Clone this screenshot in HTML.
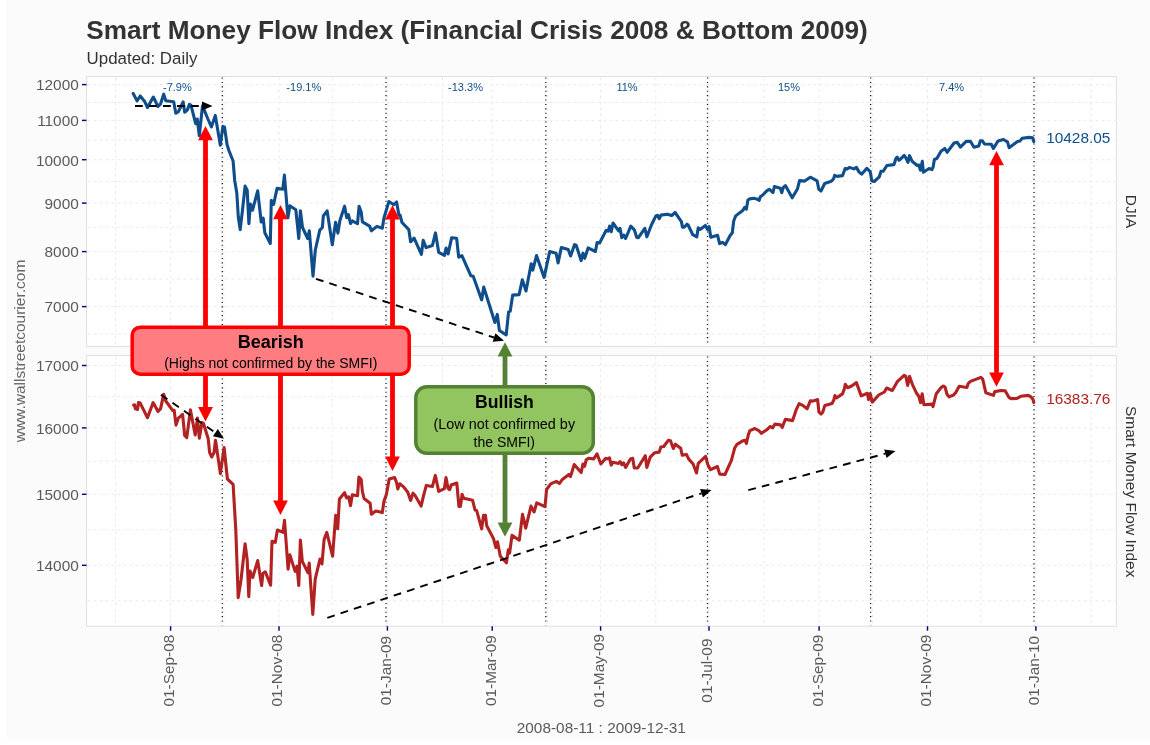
<!DOCTYPE html>
<html><head><meta charset="utf-8"><title>Smart Money Flow Index</title>
<style>
html,body{margin:0;padding:0;background:#ffffff;}
body{width:1150px;height:745px;overflow:hidden;position:relative;font-family:"Liberation Sans",sans-serif;}
#bg{position:absolute;left:6px;top:0;width:1144px;height:739px;background:#fbfbfb;}
svg{position:absolute;left:0;top:0;font-family:"Liberation Sans",sans-serif;will-change:transform;}
</style></head><body>
<div id="bg"></div>
<svg width="1150" height="745" viewBox="0 0 1150 745">
<rect x="86.5" y="76.5" width="1029.9" height="270.0" fill="#ffffff" stroke="#e0e0e0" stroke-width="1"/>
<rect x="86.5" y="355.5" width="1029.9" height="270.70000000000005" fill="#ffffff" stroke="#e0e0e0" stroke-width="1"/>
<g stroke="#eaeaea" stroke-width="1" stroke-dasharray="3 3" fill="none">
<path d="M87.5 306.6H1115.4"/>
<path d="M87.5 334.1H1115.4"/>
<path d="M87.5 251.6H1115.4"/>
<path d="M87.5 279.1H1115.4"/>
<path d="M87.5 203.1H1115.4"/>
<path d="M87.5 227.3H1115.4"/>
<path d="M87.5 159.7H1115.4"/>
<path d="M87.5 181.4H1115.4"/>
<path d="M87.5 120.4H1115.4"/>
<path d="M87.5 140.1H1115.4"/>
<path d="M87.5 84.6H1115.4"/>
<path d="M87.5 102.5H1115.4"/>
<path d="M87.5 565.3H1115.4"/>
<path d="M87.5 600.8H1115.4"/>
<path d="M87.5 494.3H1115.4"/>
<path d="M87.5 529.8H1115.4"/>
<path d="M87.5 427.9H1115.4"/>
<path d="M87.5 461.1H1115.4"/>
<path d="M87.5 365.5H1115.4"/>
<path d="M87.5 396.7H1115.4"/>
<path d="M115.5 77.5V345.5M115.5 356.5V625.2"/>
<path d="M170.6 77.5V345.5M170.6 356.5V625.2"/>
<path d="M223.9 77.5V345.5M223.9 356.5V625.2"/>
<path d="M279.0 77.5V345.5M279.0 356.5V625.2"/>
<path d="M332.3 77.5V345.5M332.3 356.5V625.2"/>
<path d="M387.4 77.5V345.5M387.4 356.5V625.2"/>
<path d="M442.5 77.5V345.5M442.5 356.5V625.2"/>
<path d="M492.2 77.5V345.5M492.2 356.5V625.2"/>
<path d="M547.3 77.5V345.5M547.3 356.5V625.2"/>
<path d="M600.6 77.5V345.5M600.6 356.5V625.2"/>
<path d="M655.7 77.5V345.5M655.7 356.5V625.2"/>
<path d="M709.0 77.5V345.5M709.0 356.5V625.2"/>
<path d="M764.1 77.5V345.5M764.1 356.5V625.2"/>
<path d="M819.1 77.5V345.5M819.1 356.5V625.2"/>
<path d="M872.4 77.5V345.5M872.4 356.5V625.2"/>
<path d="M927.5 77.5V345.5M927.5 356.5V625.2"/>
<path d="M980.8 77.5V345.5M980.8 356.5V625.2"/>
<path d="M1035.9 77.5V345.5M1035.9 356.5V625.2"/>
<path d="M1091.0 77.5V345.5M1091.0 356.5V625.2"/>
</g>
<g stroke="#111" stroke-width="1.3" stroke-dasharray="1.1 3.3" fill="none">
<path d="M222.3 77.5V345.5M222.3 356.5V625.2"/>
<path d="M386.0 77.5V345.5M386.0 356.5V625.2"/>
<path d="M545.8 77.5V345.5M545.8 356.5V625.2"/>
<path d="M707.5 77.5V345.5M707.5 356.5V625.2"/>
<path d="M870.6 77.5V345.5M870.6 356.5V625.2"/>
<path d="M1034.0 77.5V345.5M1034.0 356.5V625.2"/>
</g>
<g stroke="#00008b" stroke-width="1.45" fill="none">
<path d="M82 84.6H86.5"/>
<path d="M82 120.4H86.5"/>
<path d="M82 159.7H86.5"/>
<path d="M82 203.1H86.5"/>
<path d="M82 251.6H86.5"/>
<path d="M82 306.6H86.5"/>
<path d="M82 365.5H86.5"/>
<path d="M82 427.9H86.5"/>
<path d="M82 494.3H86.5"/>
<path d="M82 565.3H86.5"/>
<path d="M170.6 626.2V630.7"/>
<path d="M279.0 626.2V630.7"/>
<path d="M387.4 626.2V630.7"/>
<path d="M492.2 626.2V630.7"/>
<path d="M600.6 626.2V630.7"/>
<path d="M709.0 626.2V630.7"/>
<path d="M819.1 626.2V630.7"/>
<path d="M927.5 626.2V630.7"/>
<path d="M1035.9 626.2V630.7"/>
</g>
<g font-size="15.4" fill="#5a5a5a" text-anchor="end">
<text x="78.8" y="90.4">12000</text>
<text x="78.8" y="126.2">11000</text>
<text x="78.8" y="165.5">10000</text>
<text x="78.8" y="208.9">9000</text>
<text x="78.8" y="257.4">8000</text>
<text x="78.8" y="312.4">7000</text>
<text x="78.8" y="371.3">17000</text>
<text x="78.8" y="433.7">16000</text>
<text x="78.8" y="500.1">15000</text>
<text x="78.8" y="571.1">14000</text>
</g>
<g font-size="15.4" fill="#5a5a5a" text-anchor="middle">
<text transform="translate(174.0 670.6) rotate(-90)">01-Sep-08</text>
<text transform="translate(282.4 670.6) rotate(-90)">01-Nov-08</text>
<text transform="translate(390.8 670.6) rotate(-90)">01-Jan-09</text>
<text transform="translate(495.6 670.6) rotate(-90)">01-Mar-09</text>
<text transform="translate(604.0 670.6) rotate(-90)">01-May-09</text>
<text transform="translate(712.4 670.6) rotate(-90)">01-Jul-09</text>
<text transform="translate(822.5 670.6) rotate(-90)">01-Sep-09</text>
<text transform="translate(930.9 670.6) rotate(-90)">01-Nov-09</text>
<text transform="translate(1039.3 670.6) rotate(-90)">01-Jan-10</text>
</g>
<g font-size="11" fill="#104e8b" text-anchor="middle">
<text x="177.4" y="90.8">-7.9%</text>
<text x="303.8" y="90.8">-19.1%</text>
<text x="465.5" y="90.8">-13.3%</text>
<text x="627" y="90.8">11%</text>
<text x="789" y="90.8">15%</text>
<text x="951.5" y="90.8">7.4%</text>
</g>
<polyline points="133.2,93.5 137.0,100.9 140.2,96.0 144.9,101.8 147.5,107.5 153.3,97.0 158.0,106.5 160.6,103.8 163.7,94.2 165.8,100.7 173.7,101.8 175.8,113.3 178.4,111.7 183.1,101.8 184.7,112.2 187.3,110.1 189.4,104.4 191.0,105.4 195.7,123.7 197.3,119.0 199.3,135.8 202.5,105.9 207.7,118.5 211.4,126.9 215.3,115.4 220.3,145.2 222.9,126.4 224.5,126.9 227.1,144.7 228.9,150.5 233.1,161.0 234.7,180.4 236.8,193.0 238.3,217.0 240.2,229.6 242.5,210.0 245.1,186.1 247.2,190.3 248.9,223.6 250.4,204.0 252.5,210.2 257.7,190.8 261.2,222.0 263.2,218.1 264.8,232.7 270.3,243.5 271.3,200.3 273.6,204.5 277.1,188.2 282.8,189.3 284.4,175.1 287.9,217.8 289.9,205.8 295.8,209.7 298.8,238.5 300.4,210.7 302.5,227.5 307.7,238.5 309.3,230.7 313.0,276.2 315.3,250.0 319.8,230.1 322.4,227.5 323.3,216.0 327.1,210.8 332.3,244.8 335.6,222.3 337.9,233.1 339.9,220.5 344.6,206.2 346.7,217.7 348.4,214.6 350.5,223.5 352.3,220.9 357.5,223.7 359.1,206.2 361.2,212.0 362.4,221.9 369.6,226.1 371.4,230.8 376.9,226.4 382.3,228.2 384.0,217.7 388.9,201.5 393.8,204.7 396.6,202.0 398.9,215.1 400.1,215.1 402.0,222.5 408.8,229.6 410.6,241.8 414.1,238.2 421.4,254.4 423.2,240.3 426.1,247.6 432.4,245.5 435.5,232.9 438.7,252.3 444.4,255.4 446.1,248.0 448.1,254.0 451.6,237.8 456.6,238.2 458.7,257.2 461.9,255.6 470.8,275.7 473.2,276.2 481.7,299.9 483.7,287.0 494.9,322.5 497.3,314.4 499.4,330.5 506.2,334.9 508.6,312.0 510.2,311.2 512.7,295.1 519.1,294.6 522.3,279.8 526.0,291.0 531.2,263.7 532.8,270.1 536.5,255.6 544.1,277.4 549.7,251.6 556.1,253.2 558.1,262.9 561.3,247.6 568.2,249.5 570.6,256.0 574.5,244.7 576.2,245.3 581.1,260.6 583.0,253.2 584.7,258.3 588.1,247.9 595.4,251.5 597.1,242.5 599.6,243.0 606.2,230.3 608.2,231.2 609.6,226.1 611.3,231.7 613.0,223.0 618.6,230.9 620.0,228.3 621.8,237.7 623.7,235.1 625.6,238.5 630.8,226.1 634.4,230.0 636.7,237.4 638.4,237.7 644.8,228.3 646.9,236.8 651.4,225.0 655.9,215.9 657.6,215.3 659.3,218.7 661.0,215.1 667.2,214.2 671.7,215.6 675.1,212.5 681.4,221.6 682.5,227.2 684.2,227.2 687.0,224.2 688.1,225.0 692.7,234.6 696.8,236.8 698.2,227.9 700.1,229.5 705.4,225.5 707.4,229.4 709.1,226.6 710.8,237.3 717.6,235.3 719.6,243.6 722.7,242.4 725.3,244.7 730.0,235.7 732.3,232.8 733.7,221.0 735.7,215.9 743.0,210.2 744.7,207.4 746.4,209.1 747.9,200.0 749.8,198.9 753.8,198.3 756.6,198.9 759.2,200.3 760.3,196.7 762.8,195.0 767.3,190.4 769.4,189.3 773.0,192.5 774.4,186.5 780.3,188.2 781.8,192.7 783.2,187.6 785.4,185.6 792.2,197.8 797.3,189.3 799.6,180.6 804.7,181.1 810.3,177.2 817.1,180.8 818.8,189.3 821.0,191.0 824.7,183.5 831.3,181.3 833.6,178.7 834.7,175.3 837.0,176.4 842.6,175.6 845.1,168.5 847.1,169.1 849.4,167.4 853.9,168.9 856.4,167.4 859.0,171.9 861.6,174.2 866.9,168.3 870.3,171.9 871.8,181.0 874.3,181.5 879.3,176.8 881.0,171.3 883.3,171.1 886.9,165.5 894.0,164.6 896.0,158.3 897.1,157.2 899.1,160.3 904.2,155.5 905.9,157.8 908.0,162.3 909.5,155.7 912.1,161.2 917.2,165.5 918.9,165.1 920.4,170.2 922.3,161.2 923.4,172.3 929.1,168.5 931.9,169.7 933.0,167.4 934.4,159.5 937.0,158.3 941.0,151.2 944.8,148.5 947.1,152.3 954.1,143.0 957.3,142.3 960.4,147.2 966.2,141.4 970.4,141.2 974.0,147.2 978.7,146.1 980.3,140.9 982.4,140.9 984.5,144.0 991.3,144.3 993.4,148.5 998.1,140.9 1003.4,139.5 1007.5,141.9 1009.1,147.7 1017.5,141.4 1020.1,140.9 1022.2,138.3 1029.0,137.4 1032.7,137.7 1033.8,141.6" fill="none" stroke="#104e8b" stroke-width="3.1" stroke-linejoin="round" stroke-linecap="round"/>
<polyline points="133.6,405.2 134.6,404.8 135.3,408.8 137.6,409.4 138.4,402.6 140.2,403.1 147.5,417.7 153.1,402.6 158.0,411.5 160.6,408.6 163.7,394.2 165.8,401.0 172.6,410.4 174.2,410.4 176.0,425.1 178.4,418.1 182.6,414.3 184.7,435.5 186.8,437.6 190.4,409.9 195.2,435.0 197.5,418.1 199.3,438.2 202.0,422.5 203.5,423.5 208.2,438.7 209.6,452.3 211.7,457.0 214.0,452.8 215.5,440.2 220.4,473.6 224.1,447.5 227.4,479.0 233.1,484.4 235.8,530.0 238.2,597.6 241.0,580.0 245.1,543.7 247.2,560.0 248.8,596.8 250.0,571.0 252.7,577.5 257.7,560.6 261.6,585.5 262.9,573.5 265.3,571.8 270.6,585.2 272.0,541.2 275.3,542.4 277.4,530.0 283.0,532.4 284.5,520.2 288.1,569.1 289.9,554.9 295.1,571.4 297.0,566.2 298.8,585.5 300.4,540.1 302.3,561.4 308.0,572.7 309.2,563.0 312.8,614.5 315.2,579.1 320.0,559.0 322.0,563.8 324.1,539.6 326.8,532.4 332.6,556.2 335.7,515.2 337.7,528.8 339.4,499.1 344.6,492.7 346.5,497.9 348.6,496.9 350.5,505.8 352.3,494.8 357.5,495.8 358.9,477.0 361.2,479.6 362.4,491.6 364.1,498.5 370.1,503.2 371.4,514.2 375.8,511.0 382.3,512.6 384.0,501.1 386.3,494.8 389.2,479.1 394.7,477.5 396.6,482.7 397.8,489.0 399.7,483.8 403.6,486.9 407.8,492.2 410.6,500.5 413.0,493.2 415.1,495.6 421.1,506.1 423.5,495.8 426.3,485.4 432.4,486.6 435.3,475.4 438.7,491.4 444.4,488.7 446.0,477.5 448.1,488.5 449.7,489.6 451.2,485.0 456.8,483.0 458.9,506.4 460.5,506.4 462.1,494.3 463.7,498.3 472.6,500.3 475.0,509.9 476.6,510.4 481.7,528.9 483.5,515.2 485.4,515.2 486.7,525.7 493.5,538.6 495.9,547.5 497.5,541.8 500.3,556.3 506.4,562.8 508.3,549.9 509.6,553.1 512.0,535.4 519.3,540.2 522.5,514.4 525.7,528.1 531.0,506.1 534.1,512.0 536.7,502.8 545.0,506.7 546.6,489.5 550.7,483.8 556.3,481.4 559.5,483.5 562.0,479.8 568.9,474.5 570.5,476.6 574.2,464.5 581.2,472.5 582.9,464.0 584.6,466.3 586.3,459.5 588.6,458.3 593.7,458.9 597.0,453.8 600.8,464.0 605.7,458.3 607.2,458.9 609.5,457.8 611.2,465.1 612.9,462.3 618.5,463.4 620.2,461.7 621.9,464.6 623.6,462.9 625.6,467.4 630.4,458.9 632.7,458.3 634.3,468.0 637.7,468.0 645.3,455.7 646.8,467.4 650.2,457.2 654.7,452.7 659.2,452.1 660.9,447.0 663.7,446.5 668.3,440.3 670.5,440.8 673.3,448.5 675.4,444.2 680.7,448.2 682.2,455.3 686.4,454.4 688.6,458.9 693.1,464.0 696.5,473.0 698.2,463.4 705.6,456.3 707.7,464.4 710.5,469.7 717.4,466.5 719.7,474.1 725.0,474.5 731.4,460.4 734.6,448.3 737.0,444.3 743.2,440.7 745.1,440.2 746.4,443.5 748.3,434.9 749.9,430.6 754.8,428.5 758.8,430.6 761.5,433.3 766.8,429.8 770.1,426.5 772.8,427.8 774.9,424.1 780.5,424.9 782.2,427.4 785.4,419.3 792.6,420.6 796.3,409.6 799.1,403.7 803.1,405.6 807.1,408.8 810.3,400.8 812.8,401.1 817.6,399.5 818.9,412.0 821.1,414.0 822.7,412.4 824.8,405.6 832.0,403.5 833.8,400.1 834.9,395.6 836.5,397.9 842.5,393.9 844.2,389.4 845.3,384.3 847.6,387.7 852.1,385.8 856.4,382.6 861.2,395.9 867.4,393.3 868.5,399.6 870.2,393.7 872.3,402.1 878.7,395.0 884.4,392.0 886.6,388.0 892.3,390.5 897.3,381.7 904.1,375.3 905.8,376.4 907.7,385.4 909.6,376.4 912.6,384.9 916.6,393.3 918.8,396.2 920.5,402.7 922.2,393.7 923.9,404.7 931.8,404.1 933.0,406.6 936.3,393.7 941.0,387.6 943.4,386.0 945.2,387.3 946.9,394.0 949.0,396.9 953.6,395.0 955.8,392.4 959.2,386.2 966.9,387.5 968.3,383.3 970.5,381.4 980.9,377.4 982.7,379.2 985.8,392.7 993.4,395.4 994.8,391.6 1001.0,390.5 1005.3,390.9 1009.0,397.5 1011.2,398.6 1016.9,398.4 1020.8,396.3 1028.2,395.4 1031.0,396.9 1032.9,399.2 1033.8,402.6" fill="none" stroke="#b22222" stroke-width="3.1" stroke-linejoin="round" stroke-linecap="round"/>
<text x="1046.2" y="143.4" font-size="15.4" fill="#104e8b">10428.05</text>
<text x="1046.2" y="404.3" font-size="15.4" fill="#b22222">16383.76</text>
<text transform="translate(1126.2 211.5) rotate(90)" font-size="15.5" fill="#333" text-anchor="middle">DJIA</text>
<text transform="translate(1126.2 491.7) rotate(90)" font-size="15.5" fill="#333" text-anchor="middle">Smart Money Flow Index</text>
<text transform="translate(24.5 351) rotate(-90)" font-size="15.5" fill="#666" text-anchor="middle">www.wallstreetcourier.com</text>
<text x="601.3" y="732.8" font-size="15.4" fill="#5a5a5a" text-anchor="middle">2008-08-11 : 2009-12-31</text>
<text x="86.3" y="39.2" font-size="26.2" font-weight="bold" fill="#333">Smart Money Flow Index (Financial Crisis 2008 &amp; Bottom 2009)</text>
<text x="86.6" y="63.8" font-size="16.9" fill="#333">Updated: Daily</text>
<rect x="203.1" y="139.8" width="4.8" height="267.8" fill="#fe0000"/>
<path d="M205.5 126.0L212.9 140.3H198.1Z" fill="#fe0000"/>
<path d="M205.5 421.4L212.9 407.09999999999997H198.1Z" fill="#fe0000"/>
<rect x="278.1" y="218.8" width="4.8" height="282.3" fill="#fe0000"/>
<path d="M280.5 205.0L287.9 219.3H273.1Z" fill="#fe0000"/>
<path d="M280.5 514.9L287.9 500.59999999999997H273.1Z" fill="#fe0000"/>
<rect x="390.1" y="219.0" width="4.8" height="238.1" fill="#fe0000"/>
<path d="M392.5 205.2L399.9 219.5H385.1Z" fill="#fe0000"/>
<path d="M392.5 470.9L399.9 456.59999999999997H385.1Z" fill="#fe0000"/>
<rect x="994.1" y="164.8" width="4.8" height="208.1" fill="#fe0000"/>
<path d="M996.5 151.0L1003.9 165.3H989.1Z" fill="#fe0000"/>
<path d="M996.5 386.7L1003.9 372.4H989.1Z" fill="#fe0000"/>
<rect x="502.6" y="356.0" width="4.8" height="166.9" fill="#548235"/>
<path d="M505.0 342.2L512.4 356.5H497.6Z" fill="#548235"/>
<path d="M505.0 536.7L512.4 522.4000000000001H497.6Z" fill="#548235"/>
<rect x="132.2" y="327.2" width="277" height="47" rx="8" ry="8" fill="#ff7c80" stroke="#fe0000" stroke-width="3.5"/>
<text x="270.8" y="347.6" font-size="18" font-weight="bold" fill="#000" text-anchor="middle">Bearish</text>
<text x="270.8" y="368.3" font-size="14" fill="#000" text-anchor="middle">(Highs not confirmed by the SMFI)</text>
<rect x="415.8" y="386.7" width="177.5" height="66.5" rx="11" ry="11" fill="#92c560" stroke="#548235" stroke-width="3.5"/>
<text x="504.4" y="408" font-size="17.6" font-weight="bold" fill="#000" text-anchor="middle">Bullish</text>
<text x="504.3" y="428.6" font-size="14.4" fill="#000" text-anchor="middle">(Low not confirmed by</text>
<text x="504.3" y="447.4" font-size="14" fill="#000" text-anchor="middle">the SMFI)</text>
<path d="M135.0 106.0L202.0 106.0" stroke="#000" stroke-width="1.9" stroke-dasharray="7.8 6.2" fill="none"/>
<path d="M212.5 106.0L202.0 110.4L202.0 101.6Z" fill="#000"/>
<path d="M316.0 278.8L494.0 337.5" stroke="#000" stroke-width="1.9" stroke-dasharray="7.8 6.2" fill="none"/>
<path d="M504.0 340.8L492.7 341.7L495.4 333.3Z" fill="#000"/>
<path d="M161.0 394.7L215.4 432.7" stroke="#000" stroke-width="1.9" stroke-dasharray="7.8 6.2" fill="none"/>
<path d="M224.0 438.7L212.9 436.3L217.9 429.1Z" fill="#000"/>
<path d="M327.3 617.8L701.5 493.3" stroke="#000" stroke-width="1.9" stroke-dasharray="7.8 6.2" fill="none"/>
<path d="M711.5 490.0L702.9 497.5L700.1 489.1Z" fill="#000"/>
<path d="M748.3 490.2L885.4 453.7" stroke="#000" stroke-width="1.9" stroke-dasharray="7.8 6.2" fill="none"/>
<path d="M895.5 451.0L886.5 458.0L884.2 449.5Z" fill="#000"/>
</svg>
</body></html>
